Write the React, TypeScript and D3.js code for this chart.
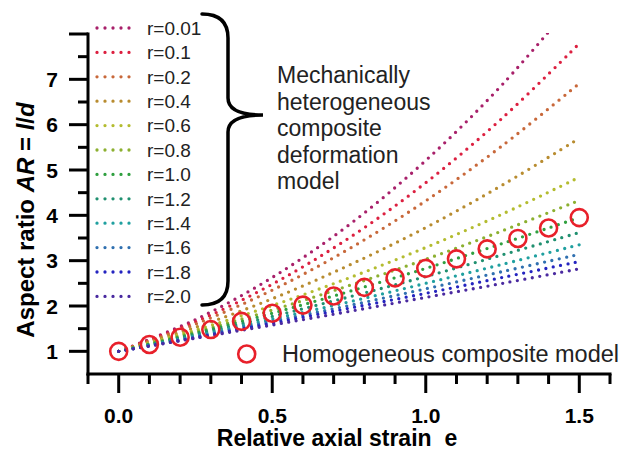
import React from "react";
import * as d3 from "d3";

const strain = [0, 0.25, 0.5, 0.75, 1.0, 1.25, 1.5];

const rLabels = ["r=0.01", "r=0.1", "r=0.2", "r=0.4", "r=0.6", "r=0.8", "r=1.0", "r=1.2", "r=1.4", "r=1.6", "r=1.8", "r=2.0"];
const rColors = ["#a8206a", "#dc2040", "#c8683a", "#b88c30", "#b4bc30", "#8cb030", "#30a040", "#209070", "#20a0a0", "#3070b0", "#2424c0", "#4a2aa0"];

const ar001 = [1, 1.70, 2.63, 3.79, 5.21, 6.89, 8.85];
const ar01 = [1, 1.65, 2.48, 3.50, 4.72, 6.15, 7.79];
const ar02 = [1, 1.60, 2.35, 3.26, 4.32, 5.54, 6.91];
const ar04 = [1, 1.53, 2.16, 2.90, 3.73, 4.67, 5.70];
const ar06 = [1, 1.47, 2.01, 2.62, 3.29, 4.03, 4.84];
const ar08 = [1, 1.43, 1.91, 2.45, 3.03, 3.66, 4.33];
const ar10 = [1, 1.40, 1.84, 2.32, 2.83, 3.38, 3.95];
const ar12 = [1, 1.37, 1.77, 2.20, 2.65, 3.13, 3.62];
const ar14 = [1, 1.34, 1.71, 2.09, 2.50, 2.92, 3.35];
const ar16 = [1, 1.32, 1.66, 2.01, 2.38, 2.76, 3.14];
const ar18 = [1, 1.30, 1.62, 1.95, 2.28, 2.63, 2.98];
const ar20 = [1, 1.29, 1.58, 1.88, 2.19, 2.50, 2.82];
const series = [ar001, ar01, ar02, ar04, ar06, ar08, ar10, ar12, ar14, ar16, ar18, ar20];

// homogeneous composite model (red circles)
const homStrain = [0, 0.1, 0.2, 0.3, 0.4, 0.5, 0.6, 0.7, 0.8, 0.9, 1.0, 1.1, 1.2, 1.3, 1.4, 1.5];
const homAR = [1.0, 1.15, 1.31, 1.48, 1.66, 1.84, 2.02, 2.22, 2.41, 2.62, 2.83, 3.04, 3.26, 3.49, 3.72, 3.95];

const yMajor = [1, 2, 3, 4, 5, 6, 7, 8];
const yMinor = [1.5, 2.5, 3.5, 4.5, 5.5, 6.5, 7.5];
const xMajor = [0, 0.5, 1.0, 1.5];
const xMinor = [-0.1, 0.1, 0.2, 0.3, 0.4, 0.6, 0.7, 0.8, 0.9, 1.1, 1.2, 1.3, 1.4, 1.6];

const braceText = ["Mechanically", "heterogeneous", "composite", "deformation", "model"];

const font = "'Liberation Sans', Arial, sans-serif";

const App = () => {
  const x = d3.scaleLinear().domain([-0.1, 1.6]).range([88, 610]);
  const y = d3.scaleLinear().domain([0.5, 8]).range([374, 34]);
  const line = d3
    .line<number>()
    .x((_, i) => x(strain[i]))
    .y(d => y(d))
    .curve(d3.curveCatmullRom);

  const braceX = 228;
  const brace = `M202,14 Q${braceX},14 ${braceX},38 L${braceX},98 Q${braceX},115 263,115 Q${braceX},115 ${braceX},132 L${braceX},281 Q${braceX},305 202,305`;

  return (
    <svg width={628} height={452} style={{ position: "absolute", left: 0, top: 0, background: "#fff" }} fontFamily={font}>
      <defs>
        <clipPath id="plot">
          <rect x={88} y={y(8) - 1} width={522} height={y(0.5) - y(8) + 1} />
        </clipPath>
      </defs>

      {/* model curves */}
      <g clipPath="url(#plot)">
        {series.map((s, i) => (
          <path
            key={i}
            d={line(s) || ""}
            fill="none"
            stroke={rColors[i]}
            strokeWidth={3.3}
            strokeLinecap="round"
            strokeDasharray="0 7.5"
          />
        ))}
      </g>

      {/* homogeneous circles */}
      {homStrain.map((e, i) => (
        <circle key={i} cx={x(e)} cy={y(homAR[i])} r={8.5} fill="none" stroke="#e8202a" strokeWidth={2.6} />
      ))}

      {/* axes */}
      <g stroke="#000" strokeWidth={3}>
        <line x1={x(-0.1)} x2={x(1.6)} y1={y(0.5)} y2={y(0.5)} strokeLinecap="square" />
        <line x1={x(-0.1)} x2={x(-0.1)} y1={y(0.5)} y2={y(8)} strokeLinecap="square" />
        {yMajor.map(v => (
          <line key={v} x1={x(-0.1) - 19} x2={x(-0.1)} y1={y(v)} y2={y(v)} />
        ))}
        {yMinor.map(v => (
          <line key={v} x1={x(-0.1) - 10} x2={x(-0.1)} y1={y(v)} y2={y(v)} />
        ))}
        {xMajor.map(v => (
          <line key={v} x1={x(v)} x2={x(v)} y1={y(0.5)} y2={y(0.5) + 19} />
        ))}
        {xMinor.map(v => (
          <line key={v} x1={x(v)} x2={x(v)} y1={y(0.5)} y2={y(0.5) + 10} />
        ))}
      </g>

      {yMajor.filter(v => v < 8).map(v => (
        <text key={v} x={58} y={y(v) + 7.5} textAnchor="end" fontSize={21} fontWeight="bold">
          {v}
        </text>
      ))}
      {xMajor.map(v => (
        <text key={v} x={x(v)} y={423} textAnchor="middle" fontSize={21} fontWeight="bold">
          {d3.format(".1f")(v)}
        </text>
      ))}

      <text x={337} y={446} textAnchor="middle" fontSize={23} fontWeight="bold">
        Relative axial strain{"\u00a0\u00a0"}e
      </text>
      <text transform="translate(34,220) rotate(-90)" textAnchor="middle" fontSize={24} fontWeight="bold">
        Aspect ratio <tspan fontStyle="italic">AR</tspan> = <tspan fontStyle="italic">l</tspan>/<tspan fontStyle="italic">d</tspan>
      </text>

      {/* legend of r values */}
      {rLabels.map((lab, i) => {
        const ly = 28 + i * 24.4;
        return (
          <g key={lab}>
            <line x1={97} x2={137} y1={ly} y2={ly} stroke={rColors[i]} strokeWidth={3.3} strokeLinecap="round" strokeDasharray="0 8" />
            <text x={147} y={ly + 6.8} fontSize={19} fill="#222">
              {lab}
            </text>
          </g>
        );
      })}

      <path d={brace} fill="none" stroke="#000" strokeWidth={3.5} strokeLinecap="round" />
      {braceText.map((t, i) => (
        <text key={t} x={277} y={75 + i * 26.5 + 8} fontSize={23} fill="#222">
          {t}
        </text>
      ))}

      <circle cx={246.7} cy={354} r={8.5} fill="none" stroke="#e8202a" strokeWidth={2.6} />
      <text x={282} y={354 + 8} fontSize={23.5} fill="#222">
        Homogeneous composite model
      </text>
    </svg>
  );
};

export default App;
